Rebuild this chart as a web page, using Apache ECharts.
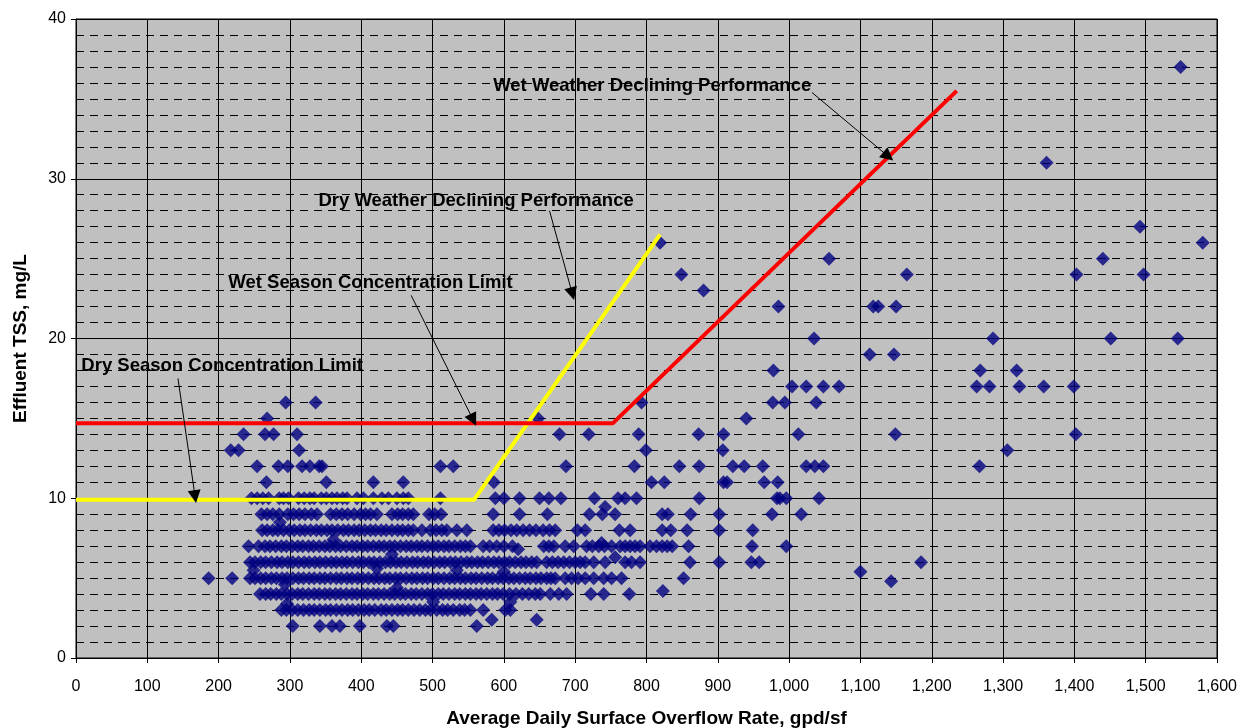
<!DOCTYPE html>
<html>
<head>
<meta charset="utf-8">
<title>Effluent TSS vs Surface Overflow Rate</title>
<script src="https://cdn.jsdelivr.net/npm/echarts@6/dist/echarts.min.js"></script>
<style>
    html, body {margin: 0; padding: 0; background: #fff;}
    #main {width: 1254px; height: 728px;}
</style>
</head>
<body>
<div id="main"></div>
<script>
/*
 * Effluent TSS (mg/L) against average daily surface overflow rate (gpd/sf)
 * x positions of the points, one list per TSS value
 */
var row2 = [304, 342, 359, 370, 398, 436, 445, 562];
var row3 = [288, 295, 303, 311, 319, 327, 334, 342, 350, 357, 365, 373, 381, 388, 396, 404, 411, 419, 428, 435, 443, 451, 458, 466, 474, 482, 490, 497, 506, 514, 521, 529, 538, 545, 553, 571, 602, 609];
var row4 = [258, 266, 273, 281, 288, 296, 303, 311, 318, 326, 334, 341, 349, 356, 364, 371, 379, 387, 394, 402, 409, 417, 424, 432, 440, 447, 455, 462, 470, 477, 485, 493, 500, 508, 515, 523, 531, 538, 546, 553, 561, 568, 576, 584, 591, 599, 608, 617, 626, 635, 644, 651, 665, 677, 688, 722, 740, 776];
var row5 = [186, 219, 244, 251, 259, 266, 274, 281, 289, 296, 304, 312, 319, 327, 334, 342, 349, 357, 365, 372, 380, 387, 395, 402, 410, 418, 425, 433, 440, 448, 455, 463, 471, 478, 486, 493, 501, 508, 516, 524, 531, 539, 546, 554, 561, 569, 577, 584, 592, 599, 607, 614, 622, 630, 637, 645, 652, 660, 666, 672, 686, 695, 704, 714, 726, 740, 751, 765, 852];
var row6 = [244, 251, 259, 266, 274, 282, 289, 297, 304, 312, 320, 327, 335, 342, 350, 358, 365, 373, 380, 388, 396, 403, 411, 418, 426, 434, 441, 449, 456, 464, 472, 479, 487, 494, 502, 510, 517, 525, 532, 540, 548, 555, 563, 570, 578, 586, 593, 601, 608, 616, 624, 631, 639, 646, 660, 668, 676, 684, 692, 700, 707, 714, 726, 742, 770, 779, 791, 861, 902, 947, 958, 1185];
var row7 = [242, 256, 265, 272, 280, 288, 295, 303, 311, 318, 326, 333, 341, 349, 356, 364, 371, 379, 387, 394, 402, 409, 417, 425, 432, 440, 447, 455, 463, 470, 478, 485, 493, 501, 508, 516, 523, 531, 539, 546, 553, 571, 580, 590, 600, 612, 656, 663, 670, 686, 698, 716, 724, 733, 741, 751, 763, 770, 777, 784, 791, 805, 814, 822, 829, 836, 859, 948, 996];
var row8 = [261, 268, 276, 283, 291, 299, 306, 314, 321, 329, 337, 344, 352, 359, 367, 375, 382, 390, 397, 405, 413, 420, 428, 435, 443, 451, 458, 466, 473, 485, 497, 505, 513, 520, 534, 548, 585, 593, 601, 610, 618, 627, 636, 645, 655, 664, 672, 703, 714, 762, 777, 822, 834, 857, 902, 949];
var row9 = [260, 268, 276, 285, 297, 305, 313, 321, 330, 338, 357, 365, 373, 381, 390, 399, 406, 413, 422, 443, 451, 458, 466, 473, 495, 503, 512, 585, 622, 661, 720, 738, 756, 822, 830, 862, 902, 976, 1017];
var row10 = [246, 254, 262, 270, 285, 291, 298, 312, 320, 328, 334, 344, 351, 359, 366, 374, 380, 394, 403, 417, 429, 438, 450, 459, 466, 511, 588, 600, 622, 650, 663, 680, 727, 760, 770, 786, 874, 983, 987, 996, 1042];
var row11 = [267, 351, 417, 459, 586, 807, 825, 908, 913, 965, 984];
var row12 = [254, 284, 297, 317, 328, 341, 345, 511, 529, 687, 783, 846, 874, 921, 937, 963, 1024, 1036, 1048, 1267];
var row13 = [217, 228, 313, 799, 907, 1306];
var row14 = [235, 265, 277, 310, 678, 719, 789, 873, 908, 1013, 1149, 1402];
var row15 = [268, 648, 940];
var row16 = [294, 336, 793, 977, 994, 1038];
var row17 = [1004, 1024, 1048, 1070, 1263, 1281, 1323, 1357, 1399];
var row18 = [978, 1268, 1319];
var row19 = [1113, 1147];
var row20 = [1035, 1286, 1451, 1545];
var row22 = [985, 1118, 1125, 1150];
var row23 = [880];
var row24 = [849, 1165, 1403, 1497];
var row25 = [1056, 1440];
var row26 = [819, 1580];
var row27 = [1492];
var row31 = [1361];
var row37 = [1549];
//points that sit between the whole mg/L values
var oddPoints = [[742, 9.45], [737, 7.2], [756, 6.3], [620, 6.8], [1100, 5.4], [1143, 4.8], [823, 4.2], [583, 2.4], [646, 2.4],
    [286, 8.5], [361, 7.4], [443, 6.5], [422, 5.6], [249, 5.5], [534, 5.5], [600, 5.4], [501, 3.5], [293, 4.6], [450, 4.4], [609, 3.5], [296, 3.4]];

//performance lines
var dryWeatherLine = [[0, 9.9], [558, 9.9], [819, 26.5]];
var wetWeatherLine = [[0, 14.7], [753, 14.7], [1235, 35.5]];

//annotations: text centre and arrow start / end, in data units
var noteTexts = ['Wet Weather Declining Performance', 'Dry Weather Declining Performance', 'Wet Season Concentration Limit', 'Dry Season Concentration Limit'];
var noteCenters = [[808, 35.8], [561, 28.6], [413, 23.5], [205, 18.3]];
var arrowFrom = [[1032, 35.4], [664, 28.0], [470, 22.7], [143, 17.5]];
var arrowTo = [[1139, 31.4], [696, 22.8], [557, 14.9], [167, 10.1]];

var xTicks = {min: 0, max: 1600, interval: 100};
var yTicks = {min: 0, max: 40, interval: 10};

/*build the scatter data*/
var rows = {2: row2, 3: row3, 4: row4, 5: row5, 6: row6, 7: row7, 8: row8, 9: row9, 10: row10, 11: row11, 12: row12,
    13: row13, 14: row14, 15: row15, 16: row16, 17: row17, 18: row18, 19: row19, 20: row20, 22: row22, 23: row23,
    24: row24, 25: row25, 26: row26, 27: row27, 31: row31, 37: row37};
var points = [];
for (var tss in rows) {
    rows[tss].forEach(function (x) {
        points.push([x, Number(tss)]);
    });
}
oddPoints.forEach(function (p) {
    points.push(p);
});

var arrows = [];
for (var i = 0; i < arrowFrom.length; i++) {
    arrows.push([{coord: arrowFrom[i]}, {coord: arrowTo[i]}]);
}

var myChart = echarts.init(document.getElementById('main'), null, {renderer: 'canvas'});
var font = 'Liberation Sans, Arial, sans-serif';
var option = {
    animation: false,
    grid: {
        left: 76,
        right: 37,
        top: 19,
        bottom: 70,
        outerBoundsMode: 'none',
        show: true,
        backgroundColor: '#c0c0c0',
        borderColor: '#000',
        borderWidth: 1
    },
    xAxis: {
        type: 'value',
        min: xTicks.min,
        max: xTicks.max,
        interval: xTicks.interval,
        name: 'Average Daily Surface Overflow Rate, gpd/sf',
        nameLocation: 'middle',
        nameGap: 51,
        nameTextStyle: {fontFamily: font, fontSize: 19, fontWeight: 'bold', color: '#000'},
        axisLine: {lineStyle: {color: '#000', width: 1}},
        axisTick: {show: true, length: 5, lineStyle: {color: '#000'}},
        axisLabel: {
            fontFamily: font, fontSize: 16, color: '#000', margin: 21,
            formatter: function (v) {
                return v.toLocaleString('en-US');
            }
        },
        splitLine: {show: true, lineStyle: {color: '#000', width: 1}}
    },
    yAxis: {
        type: 'value',
        min: yTicks.min,
        max: yTicks.max,
        interval: yTicks.interval,
        name: 'Effluent TSS, mg/L',
        nameLocation: 'middle',
        nameGap: 46,
        nameTextStyle: {fontFamily: font, fontSize: 19, fontWeight: 'bold', color: '#000'},
        axisLine: {show: true, lineStyle: {color: '#000', width: 1}},
        axisTick: {show: true, length: 5, lineStyle: {color: '#000'}},
        axisLabel: {fontFamily: font, fontSize: 16, color: '#000', margin: 10},
        splitLine: {show: true, lineStyle: {color: '#000', width: 1}},
        minorTick: {show: false, splitNumber: 10},
        minorSplitLine: {show: true, lineStyle: {color: '#000', width: 1, type: [8, 6]}}
    },
    series: [
        {
            name: 'TSS',
            type: 'scatter',
            symbol: 'diamond',
            symbolSize: 14,
            itemStyle: {color: '#000080'},
            data: points,
            z: 3,
            markLine: {
                silent: true,
                symbol: ['none', 'triangle'],
                symbolSize: 13,
                lineStyle: {color: '#000', width: 1, type: 'solid'},
                label: {show: false},
                data: arrows
            }
        },
        {
            name: 'Dry Weather Declining Performance',
            type: 'line',
            data: dryWeatherLine,
            symbol: 'none',
            lineStyle: {color: '#ffff00', width: 4},
            z: 4
        },
        {
            name: 'Wet Weather Declining Performance',
            type: 'line',
            data: wetWeatherLine,
            symbol: 'none',
            lineStyle: {color: '#ff0000', width: 4},
            z: 4
        }
    ]
};
myChart.setOption(option);

//annotation texts
var graphics = [];
noteTexts.forEach(function (txt, idx) {
    var p = myChart.convertToPixel({gridIndex: 0}, noteCenters[idx]);
    graphics.push({
        type: 'text',
        x: p[0],
        y: p[1],
        z: 10,
        style: {
            text: txt,
            fontFamily: font,
            fontSize: 18.5,
            fontWeight: 'bold',
            fill: '#000',
            align: 'center',
            verticalAlign: 'middle'
        }
    });
});
myChart.setOption({graphic: graphics});
</script>
</body>
</html>
